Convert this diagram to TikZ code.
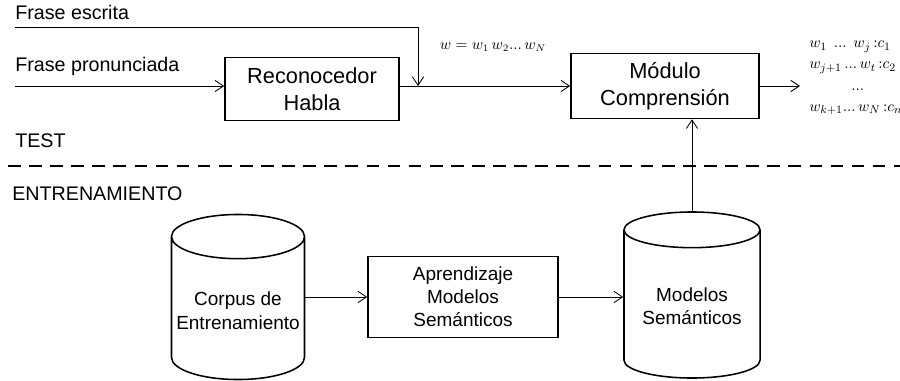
\documentclass[tikz,border=0pt]{standalone}
\usepackage{fontspec}
\setmainfont{Liberation Sans}
\usetikzlibrary{arrows.meta,shapes.geometric}

\begin{document}
\begin{tikzpicture}[x=0.025cm,y=-0.025cm,
    flecha/.style = {-{Straight Barb[length=6pt,width=8pt]}, line width=0.6pt},
    bloque/.style = {draw, line width=1.1pt, align=center, font=\fontsize{15.5}{19}\selectfont},
    bloqueb/.style = {draw, line width=1.1pt, align=center, font=\fontsize{13.5}{16.5}\selectfont},
    base/.style = {draw, line width=1.1pt, cylinder, shape border rotate=90, aspect=0.35, inner xsep=1pt, anchor=shape center, align=center, font=\fontsize{13.5}{16.5}\selectfont},
    etiqueta/.style = {anchor=base west, inner sep=0pt, font=\fontsize{14}{17}\selectfont}]
  \useasboundingbox (0,0) rectangle (900,381);

  % parte de test
  \node[bloque, minimum width=4.35cm, minimum height=1.575cm] (reco) at (312,89) {Reconocedor\\Habla};
  \node[bloque, minimum width=4.7cm, minimum height=1.625cm] (modulo) at (665,86) {Módulo\\Comprensión};
  \node[etiqueta] (escrita) at (15,20) {Frase escrita};
  \node[etiqueta] (pronun) at (15,72) {Frase pronunciada};
  \coordinate (escr) at (15,27);
  \coordinate (pron) at (15,86);
  \coordinate (union) at (418,86);
  \coordinate (salida) at (800,86);
  \draw[flecha] (pron) -- (pron -| reco.west);
  \draw[flecha] (escr) -| (union);
  \draw[flecha] (reco.east |- modulo.west) -- (modulo.west);
  \draw[flecha] (modulo.east) -- (salida);
  \node[font=\fontsize{10.5}{12}\selectfont] (palabras) at (493,47) {$w = w_1\,w_2 ...\, w_N$};
  \node[anchor=west, align=left, inner sep=0pt, font=\fontsize{11}{15}\selectfont] (conceptos) at (809,78)
    {$w_1\;\, ...\;\, w_j\,{:}c_1$\\
     $w_{j+1}\, ...\, w_t\,{:}c_2$\\
     \hspace*{1.05cm}$...$\\
     $w_{k+1} ...\, w_N\,{:}c_n$};

  % separacion
  \node[etiqueta] (test) at (15,147) {TEST};
  \draw[line width=2pt, dash pattern=on 9pt off 6pt] (8,166) -- (900,166);
  \node[etiqueta] (entren) at (12,200) {ENTRENAMIENTO};

  % parte de entrenamiento
  \node[base, minimum width=3.325cm, minimum height=4.125cm] (corpus) at (238,297) {Corpus de\\Entrenamiento};
  \node[bloqueb, minimum width=4.75cm, minimum height=2.025cm] (aprend) at (463,297) {Aprendizaje\\Modelos\\Semánticos};
  \node[base, minimum width=3.4cm, minimum height=4.15cm] (modelos) at (692,295) {Modelos\\Semánticos};
  \draw[flecha] (corpus.east |- aprend.west) -- (aprend.west);
  \draw[flecha] (aprend.east) -- (aprend.east -| modelos.west);
  \draw[flecha] (modelos.north) -- (modelos.north |- modulo.south);
\end{tikzpicture}
\end{document}
